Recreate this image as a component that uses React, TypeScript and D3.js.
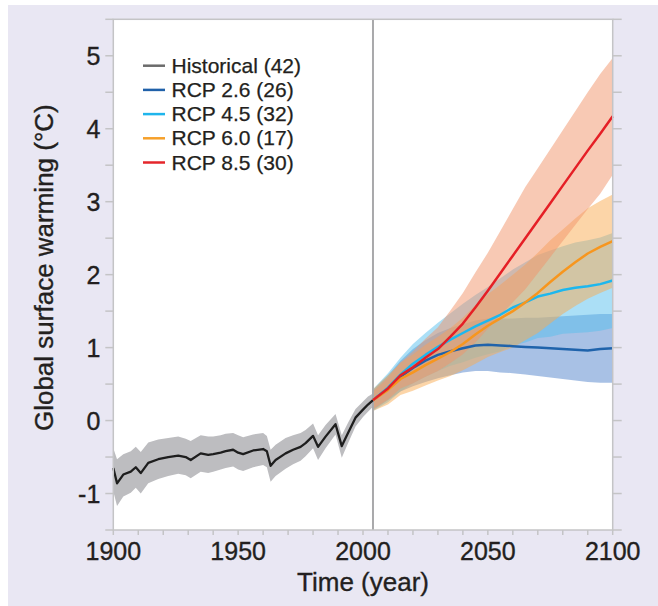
import React from "react";
import * as d3 from "d3";

const width = 658;
const height = 606;
const margin = { top: 19.3, right: 45.3, bottom: 76, left: 113.3 };

// historical run (1900-2004)
const histYears = [1900, 1901.5, 1904, 1907, 1909, 1911, 1914, 1918, 1922, 1926, 1929, 1931, 1935, 1938, 1940, 1943, 1945, 1948, 1950, 1952, 1956, 1960, 1961.5, 1963, 1965, 1969, 1972, 1975, 1977, 1980, 1982, 1985, 1989, 1991.5, 1994, 1997, 2000, 2002, 2004];
const histMean = [-0.65, -0.86, -0.74, -0.7, -0.64, -0.72, -0.58, -0.53, -0.5, -0.48, -0.5, -0.54, -0.45, -0.47, -0.46, -0.44, -0.42, -0.4, -0.44, -0.46, -0.41, -0.39, -0.42, -0.62, -0.54, -0.45, -0.4, -0.36, -0.31, -0.21, -0.36, -0.22, -0.05, -0.35, -0.17, 0.04, 0.15, 0.22, 0.28];
const histLow = [-0.97, -1.17, -1.04, -0.99, -0.92, -1.0, -0.86, -0.8, -0.76, -0.73, -0.75, -0.79, -0.7, -0.72, -0.7, -0.67, -0.65, -0.63, -0.67, -0.69, -0.64, -0.61, -0.64, -0.84, -0.76, -0.66, -0.6, -0.55, -0.49, -0.38, -0.54, -0.38, -0.19, -0.51, -0.31, -0.08, 0.05, 0.12, 0.19];
const histHigh = [-0.38, -0.53, -0.46, -0.42, -0.36, -0.43, -0.3, -0.26, -0.24, -0.22, -0.25, -0.28, -0.2, -0.22, -0.22, -0.2, -0.18, -0.17, -0.2, -0.23, -0.19, -0.17, -0.21, -0.4, -0.33, -0.24, -0.2, -0.17, -0.13, -0.04, -0.2, -0.06, 0.09, -0.2, -0.03, 0.16, 0.26, 0.33, 0.37];

// projections (2004-2100)
const projYears = [2004, 2010, 2015, 2020, 2025, 2030, 2035, 2040, 2045, 2050, 2055, 2060, 2065, 2070, 2075, 2080, 2085, 2090, 2095, 2100];

const rcp26Mean = [0.28, 0.44, 0.6, 0.72, 0.82, 0.9, 0.95, 0.99, 1.03, 1.04, 1.03, 1.02, 1.01, 1.0, 0.99, 0.98, 0.97, 0.96, 0.98, 0.99];
const rcp26Low = [0.14, 0.28, 0.4, 0.47, 0.53, 0.58, 0.62, 0.66, 0.68, 0.68, 0.66, 0.65, 0.63, 0.61, 0.59, 0.57, 0.55, 0.53, 0.52, 0.52];
const rcp26High = [0.42, 0.62, 0.82, 0.98, 1.1, 1.2, 1.27, 1.32, 1.37, 1.4, 1.4, 1.4, 1.41, 1.41, 1.42, 1.43, 1.44, 1.45, 1.46, 1.46];

const rcp45Mean = [0.28, 0.45, 0.63, 0.78, 0.9, 1.01, 1.11, 1.2, 1.29, 1.37, 1.45, 1.55, 1.62, 1.7, 1.74, 1.79, 1.82, 1.84, 1.87, 1.92];
const rcp45Low = [0.13, 0.25, 0.4, 0.51, 0.6, 0.68, 0.75, 0.8, 0.86, 0.91, 0.95, 1.03, 1.07, 1.13, 1.15, 1.19, 1.2, 1.21, 1.23, 1.27];
const rcp45High = [0.43, 0.65, 0.86, 1.05, 1.2, 1.34, 1.47, 1.6, 1.72, 1.83, 1.95, 2.07, 2.17, 2.27, 2.33, 2.39, 2.44, 2.47, 2.51, 2.57];

const rcp60Mean = [0.28, 0.42, 0.57, 0.66, 0.76, 0.85, 0.94, 1.05, 1.18, 1.3, 1.4, 1.5, 1.62, 1.75, 1.9, 2.04, 2.17, 2.29, 2.38, 2.46];
const rcp60Low = [0.13, 0.22, 0.35, 0.41, 0.48, 0.55, 0.61, 0.69, 0.78, 0.87, 0.94, 1.0, 1.1, 1.2, 1.33, 1.46, 1.57, 1.67, 1.75, 1.82];
const rcp60High = [0.43, 0.62, 0.79, 0.91, 1.04, 1.15, 1.27, 1.41, 1.58, 1.73, 1.86, 2.0, 2.14, 2.3, 2.47, 2.62, 2.77, 2.91, 3.01, 3.1];

const rcp85Mean = [0.28, 0.44, 0.62, 0.73, 0.86, 0.98, 1.15, 1.33, 1.55, 1.78, 2.02, 2.26, 2.5, 2.74, 2.98, 3.22, 3.46, 3.7, 3.93, 4.17];
const rcp85Low = [0.16, 0.29, 0.44, 0.51, 0.6, 0.68, 0.79, 0.91, 1.07, 1.26, 1.44, 1.62, 1.8, 2.02, 2.24, 2.46, 2.68, 2.9, 3.11, 3.37];
const rcp85High = [0.4, 0.59, 0.8, 0.95, 1.12, 1.28, 1.51, 1.75, 2.03, 2.3, 2.6, 2.9, 3.2, 3.46, 3.72, 3.98, 4.24, 4.5, 4.75, 4.97];

const legendLabels = ["Historical (42)", "RCP 2.6 (26)", "RCP 4.5 (32)", "RCP 6.0 (17)", "RCP 8.5 (30)"];
const legendColors = ["#6b6b6b", "#2061a9", "#1fb5ec", "#f6a02a", "#e4262b"];

const xTickLabels = [1900, 1950, 2000, 2050, 2100];
const yTickLabels = [-1, 0, 1, 2, 3, 4, 5];
const splitYear = 2004;

const font = "'Liberation Sans', Arial, Helvetica, sans-serif";
const ink = "#231f20";
const textStyle = { fontFamily: font, fill: ink, stroke: ink, strokeWidth: 0.35 };

const scenarios = [
  { mean: rcp26Mean, low: rcp26Low, high: rcp26High, line: "#1f63ab", band: "#5183cb" },
  { mean: rcp45Mean, low: rcp45Low, high: rcp45High, line: "#1db7ee", band: "#57bfed" },
  { mean: rcp60Mean, low: rcp60Low, high: rcp60High, line: "#f7961e", band: "#f9ab51" },
  { mean: rcp85Mean, low: rcp85Low, high: rcp85High, line: "#e51f26", band: "#f19369" },
];

const App = () => {
  const x = d3
    .scaleLinear()
    .domain([1900, 2100])
    .range([margin.left, width - margin.right]);
  const y = d3
    .scaleLinear()
    .domain([-1.5, 5.5])
    .range([height - margin.bottom, margin.top]);

  const area = (years, low, high) =>
    d3
      .area()
      .x((d, i) => x(years[i]))
      .y0((d, i) => y(low[i]))
      .y1((d, i) => y(high[i]))(years);
  const line = (years, vals) =>
    d3
      .line()
      .x((d, i) => x(years[i]))
      .y((d, i) => y(vals[i]))(years);

  const x0 = x(1900);
  const x1 = x(2100);
  const yTop = y(5.5);
  const yBot = y(-1.5);
  const yMinor = d3.range(-1.5, 5.51, 0.5);
  const xMinor = d3.range(1900, 2101, 10);

  return (
    <div style={{ position: "absolute", left: 0, top: 0 }}>
      <svg width={width} height={height} style={{ display: "block" }}>
        <rect x={8} y={5} width={width - 8} height={height - 5} fill="#e9e7f3" />
        <rect x={x0} y={yTop} width={x1 - x0} height={yBot - yTop} fill="#fff" />

        {/* bands */}
        <path d={area(histYears, histLow, histHigh)} fill="#bdbdc0" />
        {scenarios.map((s, i) => (
          <path key={"b" + i} d={area(projYears, s.low, s.high)} fill={s.band} fillOpacity={0.5} />
        ))}

        {/* split line */}
        <line x1={x(splitYear)} x2={x(splitYear)} y1={yTop} y2={yBot} stroke="#a9a9ab" strokeWidth={2} />

        {/* lines */}
        <path d={line(histYears, histMean)} fill="none" stroke="#1e1e1e" strokeWidth={2.3} strokeLinejoin="round" />
        {scenarios.map((s, i) => (
          <path
            key={"l" + i}
            d={line(projYears, s.mean)}
            fill="none"
            stroke={s.line}
            strokeWidth={2.5}
            strokeLinejoin="round"
          />
        ))}

        {/* frame */}
        <rect x={x0} y={yTop} width={x1 - x0} height={yBot - yTop} fill="none" stroke="#c4c4c6" strokeWidth={1.5} />

        {/* ticks */}
        {yMinor.map((v) => (
          <g key={"y" + v}>
            <line x1={x0 - 8} x2={x0} y1={y(v)} y2={y(v)} stroke="#c4c4c6" strokeWidth={1.5} />
            <line x1={x1} x2={x1 + 9} y1={y(v)} y2={y(v)} stroke="#c4c4c6" strokeWidth={1.5} />
          </g>
        ))}
        {xMinor.map((v) => (
          <line key={"x" + v} x1={x(v)} x2={x(v)} y1={yBot} y2={yBot + 5} stroke="#c4c4c6" strokeWidth={1.5} />
        ))}

        {yTickLabels.map((v) => (
          <text key={"yl" + v} x={x0 - 13} y={y(v) + 9} textAnchor="end" fontSize={25} style={textStyle}>
            {v}
          </text>
        ))}
        {xTickLabels.map((v) => (
          <text key={"xl" + v} x={x(v)} y={560} textAnchor="middle" fontSize={25} style={textStyle}>
            {v}
          </text>
        ))}

        <text x={(x0 + x1) / 2} y={591} textAnchor="middle" fontSize={26} style={textStyle}>
          Time (year)
        </text>
        <text
          transform={`translate(53, ${(yTop + yBot) / 2 - 7}) rotate(-90)`}
          textAnchor="middle"
          fontSize={26}
          style={textStyle}
        >
          Global surface warming (°C)
        </text>

        {/* legend */}
        {legendLabels.map((lab, i) => {
          const ly = 65.7 + i * 24.2;
          return (
            <g key={lab}>
              <line x1={143} x2={165} y1={ly} y2={ly} stroke={legendColors[i]} strokeWidth={2.5} />
              <text x={171.5} y={ly + 7} fontSize={21} style={{ ...textStyle, strokeWidth: 0.25 }}>
                {lab}
              </text>
            </g>
          );
        })}
      </svg>
    </div>
  );
};

export default App;
